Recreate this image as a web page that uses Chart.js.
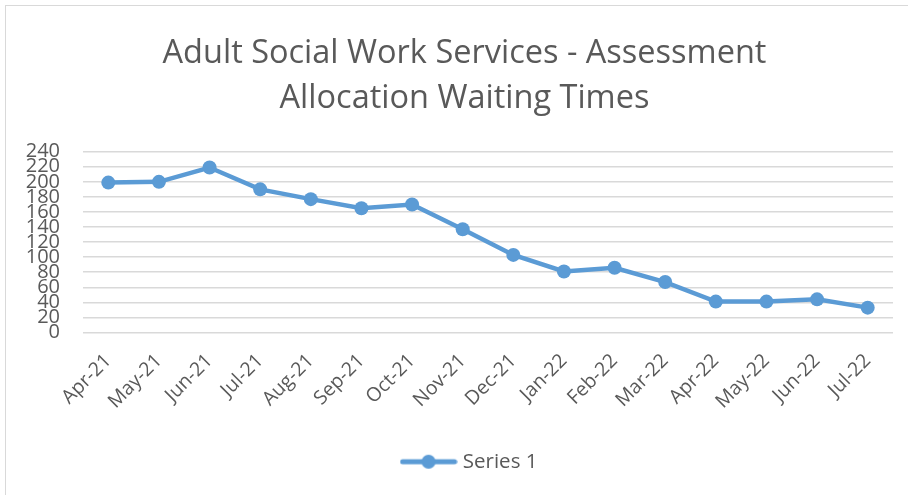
<!DOCTYPE html>
<html>
<head>
<meta charset="utf-8">
<script src="https://cdn.jsdelivr.net/npm/chart.js@4/dist/chart.umd.min.js"></script>
<style>
  html, body { margin: 0; padding: 0; background: #fff; }
  #wrap { position: relative; width: 908px; height: 495px; }
  #frame { position: absolute; left: 5px; top: 5px; width: 920px; height: 500px; border: 1px solid #d9d9d9; box-sizing: border-box; }
</style>
</head>
<body>
<div id="wrap">
  <div id="frame"></div>
  <canvas id="myChart" width="908" height="495"></canvas>
</div>
<script>
// данные графика
const months = ['Apr-21', 'May-21', 'Jun-21', 'Jul-21', 'Aug-21', 'Sep-21', 'Oct-21', 'Nov-21',
  'Dec-21', 'Jan-22', 'Feb-22', 'Mar-22', 'Apr-22', 'May-22', 'Jun-22', 'Jul-22'];
const series1 = [199, 200, 219, 190, 177, 165, 170, 137, 103, 81, 86, 67, 41, 41, 44, 33];
const seriesName = 'Series 1';
const titleLines = ['Adult Social Work Services - Assessment', 'Allocation Waiting Times'];
const yTicks = { min: 0, max: 240, step: 20 };

const blue = '#5b9bd5';
const grey = '#595959';
const font = '"Open Sans", "Liberation Sans", sans-serif';

// значок легенды: линия с кружком
const legendIcon = document.createElement('canvas');
legendIcon.width = 58;
legendIcon.height = 18;
const lctx = legendIcon.getContext('2d');
lctx.strokeStyle = blue;
lctx.lineWidth = 5;
lctx.lineCap = 'round';
lctx.beginPath();
lctx.moveTo(3, 9);
lctx.lineTo(55, 9);
lctx.stroke();
lctx.fillStyle = blue;
lctx.beginPath();
lctx.arc(29, 9, 7, 0, Math.PI * 2);
lctx.fill();

// сдвигаем заголовок и легенду вправо, как в оригинале
const shiftBoxes = {
  id: 'shiftBoxes',
  afterLayout: function (c) {
    c.titleBlock.left = 36;
    c.legend.left = 49;
  }
};

const ctx = document.getElementById('myChart').getContext('2d');
const chart = new Chart(ctx, {
  type: 'line',
  data: {
    labels: months,
    datasets: [{
      label: seriesName,
      data: series1,
      borderColor: blue,
      backgroundColor: blue,
      borderWidth: 4.5,
      pointRadius: 7,
      pointHoverRadius: 7,
      pointBackgroundColor: blue,
      pointBorderWidth: 0,
      tension: 0
    }]
  },
  plugins: [shiftBoxes],
  options: {
    responsive: false,
    animation: false,
    layout: { padding: { left: 0, right: 15, top: 31, bottom: 13 } },
    plugins: {
      title: {
        display: true,
        text: titleLines,
        color: grey,
        font: { family: font, size: 32.5, weight: 'normal', lineHeight: 1.38 },
        padding: { top: 0, bottom: 31 }
      },
      legend: {
        position: 'bottom',
        labels: {
          color: grey,
          font: { family: font, size: 20.5 },
          usePointStyle: true,
          pointStyleWidth: 48,
          padding: 10,
          generateLabels: function (c) {
            return [{
              text: seriesName,
              pointStyle: legendIcon,
              fontColor: grey,
              lineWidth: 0,
              datasetIndex: 0
            }];
          }
        }
      },
      tooltip: { enabled: false }
    },
    scales: {
      x: {
        offset: true,
        afterFit: function (scale) { scale.height = 109; },
        grid: { display: false },
        border: { display: false },
        ticks: {
          color: grey,
          font: { family: font, size: 19.5 },
          maxRotation: 45,
          minRotation: 45,
          autoSkip: false,
          padding: 9
        }
      },
      y: {
        min: yTicks.min,
        max: yTicks.max,
        afterFit: function (scale) { scale.width = 83; },
        grid: { color: '#d9d9d9', lineWidth: 1.5, drawTicks: false },
        border: { display: false },
        ticks: {
          stepSize: yTicks.step,
          autoSkip: false,
          color: grey,
          font: { family: font, size: 20, lineHeight: 1 },
          padding: 23
        }
      }
    }
  }
});
</script>
</body>
</html>
